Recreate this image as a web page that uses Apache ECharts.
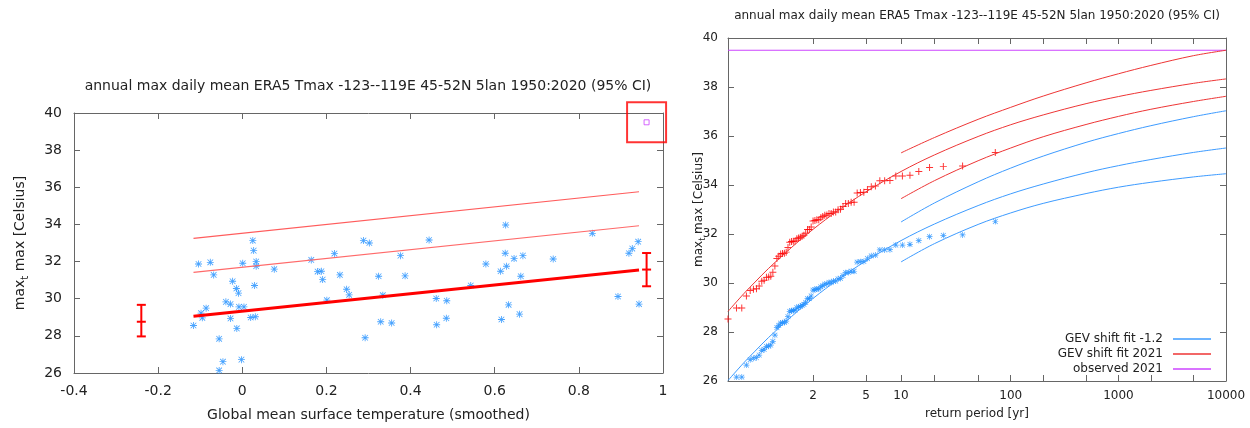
<!DOCTYPE html>
<html>
<head>
<meta charset="utf-8">
<script src="https://cdn.jsdelivr.net/npm/echarts@6/dist/echarts.min.js"></script>
<style>
  html, body { margin: 0; padding: 0; background: #fff; }
  #chart { width: 1250px; height: 428px; }
</style>
</head>
<body>
<div id="chart"></div>
<script>
// left panel: annual max vs smoothed GMST
const gmst = [-0.116, -0.104, -0.098, -0.095, -0.086, -0.076, -0.068, -0.055, -0.055, -0.046,
  -0.039, -0.028, -0.028, -0.023, -0.014, -0.013, -0.009, -0.008, -0.002, 0.001,
  0.004, 0.020, 0.025, 0.027, 0.029, 0.031, 0.033, 0.033, 0.076, 0.164,
  0.179, 0.188, 0.191, 0.201, 0.219, 0.232, 0.248, 0.254, 0.288, 0.292,
  0.302, 0.324, 0.329, 0.334, 0.355, 0.376, 0.387, 0.444, 0.461, 0.462,
  0.485, 0.486, 0.543, 0.579, 0.614, 0.616, 0.625, 0.626, 0.628, 0.633,
  0.646, 0.659, 0.662, 0.667, 0.739, 0.832, 0.893, 0.919, 0.927, 0.941, 0.943]
const tmax = [28.56, 31.87, 29.22, 28.97, 29.49, 31.96, 31.28, 27.84, 26.14, 26.61,
  29.83, 29.71, 28.94, 30.94, 30.55, 28.40, 30.30, 29.56, 26.72, 31.91,
  29.56, 28.99, 33.13, 32.59, 30.71, 29.03, 32.00, 31.75, 31.59, 32.09,
  31.46, 31.48, 31.03, 29.92, 32.43, 31.28, 30.51, 30.21, 33.13, 27.90,
  33.00, 31.21, 28.76, 30.19, 28.69, 32.32, 31.23, 33.16, 30.01, 28.60,
  28.95, 29.89, 30.71, 31.87, 31.48, 28.88, 32.45, 33.97, 31.75, 29.67,
  32.16, 29.17, 31.21, 32.32, 32.14, 33.52, 30.12, 32.45, 32.70, 33.07, 29.71]

// fitted position parameter and two return levels (line end points)
const trendX = [-0.116, 0.943]
const trendMu = [29.06, 31.55]
const trendLow = [31.42, 33.93]
const trendHigh = [33.25, 35.76]

// 95% CI of mu at the two reference climates
const errX = [-0.24, 0.961]
const errLo = [27.97, 30.67]
const errMid = [28.76, 31.57]
const errHi = [29.67, 32.46]

const gmst2021 = 0.961
const observed2021 = 39.5

// right panel: return periods of the ranked values
const returnPeriod = [72, 36, 24, 18, 14.4, 12, 10.286, 9, 8, 7.2,
  6.545, 6, 5.538, 5.143, 4.8, 4.5, 4.235, 4, 3.789, 3.6,
  3.429, 3.273, 3.130, 3, 2.88, 2.769, 2.667, 2.571, 2.483, 2.4,
  2.323, 2.25, 2.182, 2.118, 2.057, 2, 1.946, 1.895, 1.846, 1.8,
  1.756, 1.714, 1.674, 1.636, 1.6, 1.565, 1.532, 1.5, 1.469, 1.44,
  1.412, 1.385, 1.358, 1.333, 1.309, 1.286, 1.263, 1.241, 1.220, 1.2,
  1.180, 1.161, 1.143, 1.125, 1.108, 1.091, 1.075, 1.059, 1.043, 1.029, 1.014]
const obs2021 = [35.33, 34.78, 34.76, 34.71, 34.55, 34.40, 34.37, 34.37, 34.18, 34.17,
  34.17, 33.96, 33.93, 33.82, 33.70, 33.69, 33.67, 33.30, 33.30, 33.25,
  33.24, 33.12, 33.01, 32.99, 32.90, 32.90, 32.84, 32.84, 32.78, 32.77,
  32.71, 32.66, 32.58, 32.58, 32.55, 32.53, 32.29, 32.18, 32.18, 32.03,
  31.95, 31.91, 31.87, 31.84, 31.81, 31.71, 31.70, 31.69, 31.66, 31.45,
  31.26, 31.21, 31.20, 31.18, 31.09, 31.00, 30.69, 30.44, 30.28, 30.24,
  30.23, 30.11, 30.07, 29.88, 29.77, 29.75, 29.69, 29.47, 28.98, 28.98, 28.53]
const obsPast = [32.51, 31.96, 31.94, 31.89, 31.73, 31.58, 31.55, 31.55, 31.36, 31.35,
  31.35, 31.14, 31.11, 31.00, 30.88, 30.87, 30.85, 30.48, 30.48, 30.43,
  30.42, 30.30, 30.19, 30.17, 30.08, 30.08, 30.02, 30.02, 29.96, 29.95,
  29.89, 29.84, 29.76, 29.76, 29.73, 29.71, 29.47, 29.36, 29.36, 29.21,
  29.13, 29.09, 29.05, 29.02, 28.99, 28.89, 28.88, 28.87, 28.84, 28.63,
  28.44, 28.39, 28.38, 28.36, 28.27, 28.18, 27.87, 27.62, 27.46, 27.42,
  27.41, 27.29, 27.25, 27.06, 26.95, 26.93, 26.87, 26.65, 26.16, 26.16, 25.71]

// GEV return level curves
const fitT = [1.014, 1.05, 1.1, 1.2, 1.5, 2, 3, 5, 10, 20, 50, 100, 200, 500, 1000, 2000, 5000, 10000]
const fit2021 = [28.84, 29.57, 30.04, 30.60, 31.45, 32.19, 32.96, 33.72, 34.55, 35.23, 35.98, 36.46, 36.86, 37.32, 37.61, 37.86, 38.15, 38.33]
const fitPast = [26.02, 26.75, 27.22, 27.78, 28.63, 29.37, 30.14, 30.90, 31.73, 32.41, 33.16, 33.64, 34.04, 34.50, 34.79, 35.04, 35.33, 35.51]
const ciT = [10, 20, 50, 100, 200, 500, 1000, 2000, 5000, 10000]
const fit2021Hi = [35.31, 35.94, 36.68, 37.17, 37.63, 38.17, 38.54, 38.88, 39.28, 39.50]
const fit2021Lo = [33.44, 34.18, 34.99, 35.51, 35.97, 36.47, 36.80, 37.09, 37.41, 37.62]
const fitPastHi = [32.49, 33.27, 34.13, 34.69, 35.18, 35.74, 36.10, 36.42, 36.79, 37.03]
const fitPastLo = [30.86, 31.61, 32.39, 32.86, 33.25, 33.65, 33.91, 34.11, 34.33, 34.46]

const tickT = [2, 5, 10, 20, 50, 100, 200, 500, 1000, 2000, 5000, 10000]
const labelT = [2, 5, 10, 100, 1000, 10000]

const FONT = 'DejaVu Sans'
const BLUE = '#1a8cff'
const BLUE_LINE = '#3d9bff'
const RED = '#ff0000'
const RED_LINE = '#ee3535'
const PURPLE = '#cc44ff'
const FRAME = '#666'

// gumbel reduced variate, x axis of the return period plot
const gumbel = T => -Math.log(-Math.log(1 - 1 / T))
const uMin = gumbel(returnPeriod[returnPeriod.length - 1])
const uMax = gumbel(10000)

const ASTER = 'path://M0,4.4H10V5.6H0Z M4.4,0H5.6V10H4.4Z M1.4,0.6L9.4,8.6L8.6,9.4L0.6,1.4Z M8.6,0.6L9.4,1.4L1.4,9.4L0.6,8.6Z'
const PLUS = 'path://M4.3,0H5.7V4.3H10V5.7H5.7V10H4.3V5.7H0V4.3H4.3Z'

const chart = echarts.init(document.getElementById('chart'))

const frameAxis = (grid, extra) => Object.assign({
  gridIndex: grid,
  type: 'value',
  axisLine: { show: true, onZero: false, lineStyle: { color: FRAME, width: 1 } },
  axisTick: { show: true, inside: true, length: 6, lineStyle: { color: FRAME } },
  splitLine: { show: false },
  axisLabel: { show: false }
}, extra)

const yName = (size) => ({
  fontFamily: FONT, fontSize: size, color: '#222',
  rich: {
    a: { fontFamily: FONT, fontSize: size, color: '#222' },
    s: { fontFamily: FONT, fontSize: size - 4, color: '#222', padding: [9, 0, 0, 0] }
  }
})

const uLabel = v => {
  const t = labelT.find(t => Math.abs(gumbel(t) - v) < 1e-6)
  return t === undefined ? '' : String(t)
}

// thin fitted curve on the return period panel
const curve = (ts, ys, color, name) => ({
  name,
  type: 'line', xAxisIndex: 2, yAxisIndex: 2,
  data: ts.map((t, i) => [gumbel(t), ys[i]]),
  symbol: 'none', smooth: 0.35,
  lineStyle: { color, width: 1 }, itemStyle: { color }
})

const option = {
  animation: false,
  backgroundColor: '#fff',
  textStyle: { fontFamily: FONT },
  title: [
    {
      text: 'annual max daily mean ERA5 Tmax -123--119E 45-52N 5lan 1950:2020 (95% CI)',
      left: 368, top: 79, textAlign: 'center', padding: 0,
      textStyle: { fontFamily: FONT, fontSize: 14, fontWeight: 'normal', color: '#222' }
    },
    {
      text: 'annual max daily mean ERA5 Tmax -123--119E 45-52N 5lan 1950:2020 (95% CI)',
      left: 977, top: 10, textAlign: 'center', padding: 0,
      textStyle: { fontFamily: FONT, fontSize: 12, fontWeight: 'normal', color: '#222' }
    }
  ],
  legend: {
    orient: 'vertical',
    right: 39, top: 332,
    align: 'right',
    itemWidth: 38, itemHeight: 1.5,
    itemGap: 1,
    icon: 'rect',
    padding: 0,
    data: ['GEV shift fit -1.2', 'GEV shift fit 2021', 'observed 2021'],
    textStyle: { fontFamily: FONT, fontSize: 12, color: '#222', lineHeight: 14, padding: [0, 5, 0, 0] }
  },
  grid: [
    { left: 74, top: 113, width: 589, height: 260 },
    { left: 728, top: 38, width: 498, height: 343 }
  ],
  xAxis: [
    frameAxis(0, {
      min: -0.4, max: 1, interval: 0.2, position: 'bottom',
      axisLabel: { show: true, fontFamily: FONT, fontSize: 14, color: '#222', margin: 11 },
      name: 'Global mean surface temperature (smoothed)',
      nameLocation: 'middle', nameGap: 35,
      nameTextStyle: { fontFamily: FONT, fontSize: 14, color: '#222' }
    }),
    frameAxis(0, { min: -0.4, max: 1, interval: 0.2, position: 'top' }),
    frameAxis(1, {
      min: uMin, max: uMax, position: 'bottom',
      axisTick: { show: true, inside: true, length: 6, lineStyle: { color: FRAME }, customValues: tickT.map(gumbel) },
      axisLabel: {
        show: true, fontFamily: FONT, fontSize: 12, color: '#222', margin: 9,
        customValues: labelT.map(gumbel), formatter: uLabel
      },
      name: 'return period [yr]',
      nameLocation: 'middle', nameGap: 27,
      nameTextStyle: { fontFamily: FONT, fontSize: 12, color: '#222' }
    }),
    frameAxis(1, {
      min: uMin, max: uMax, position: 'top',
      axisTick: { show: true, inside: true, length: 6, lineStyle: { color: FRAME }, customValues: tickT.map(gumbel) }
    })
  ],
  yAxis: [
    frameAxis(0, {
      min: 26, max: 40, interval: 2, position: 'left',
      axisLabel: { show: true, fontFamily: FONT, fontSize: 14, color: '#222', margin: 12 },
      name: '{a|max}{s|t}{a| max [Celsius]}',
      nameLocation: 'middle', nameGap: 44, nameMoveOverlap: false,
      nameTextStyle: yName(14)
    }),
    frameAxis(0, { min: 26, max: 40, interval: 2, position: 'right' }),
    frameAxis(1, {
      min: 26, max: 40, interval: 2, position: 'left',
      axisLabel: { show: true, fontFamily: FONT, fontSize: 12, color: '#222', margin: 10 },
      name: '{a|max}{s|t}{a| max [Celsius]}',
      nameLocation: 'middle', nameGap: 21, nameMoveOverlap: false,
      nameTextStyle: yName(12)
    }),
    frameAxis(1, { min: 26, max: 40, interval: 2, position: 'right' })
  ],
  series: [
    // left panel
    {
      type: 'scatter', xAxisIndex: 0, yAxisIndex: 0,
      data: gmst.map((x, i) => [x, tmax[i]]),
      symbol: ASTER, symbolSize: 7,
      itemStyle: { color: BLUE }
    },
    {
      type: 'line', xAxisIndex: 0, yAxisIndex: 0,
      data: trendX.map((x, i) => [x, trendHigh[i]]),
      symbol: 'none', lineStyle: { color: '#ff5c5c', width: 1.2 }
    },
    {
      type: 'line', xAxisIndex: 0, yAxisIndex: 0,
      data: trendX.map((x, i) => [x, trendLow[i]]),
      symbol: 'none', lineStyle: { color: '#ff6a6a', width: 1.2 }
    },
    {
      type: 'line', xAxisIndex: 0, yAxisIndex: 0,
      data: trendX.map((x, i) => [x, trendMu[i]]),
      symbol: 'none', lineStyle: { color: RED, width: 3 }
    },
    {
      type: 'custom', xAxisIndex: 0, yAxisIndex: 0,
      data: errX.map((x, i) => [x, errLo[i], errMid[i], errHi[i]]),
      encode: { x: 0, y: [1, 2, 3] },
      renderItem: (params, api) => {
        const x = api.value(0)
        const lo = api.coord([x, api.value(1)])
        const mid = api.coord([x, api.value(2)])
        const hi = api.coord([x, api.value(3)])
        const w = 4.5
        const style = { stroke: RED, lineWidth: 2 }
        const h = p => ({ type: 'line', shape: { x1: p[0] - w, y1: p[1], x2: p[0] + w, y2: p[1] }, style })
        return {
          type: 'group',
          children: [
            { type: 'line', shape: { x1: lo[0], y1: lo[1], x2: hi[0], y2: hi[1] }, style },
            h(lo), h(mid), h(hi)
          ]
        }
      }
    },
    {
      type: 'scatter', xAxisIndex: 0, yAxisIndex: 0,
      data: [[gmst2021, observed2021]],
      symbol: 'rect', symbolSize: 5,
      itemStyle: { color: '#fff', borderColor: PURPLE, borderWidth: 1 }
    },
    {
      // highlight box round the 2021 value
      type: 'scatter', xAxisIndex: 0, yAxisIndex: 0, clip: false, silent: true,
      data: [[gmst2021, observed2021]],
      symbol: 'rect', symbolSize: [39, 40],
      itemStyle: { color: 'rgba(0,0,0,0)', borderColor: RED, borderWidth: 2 },
      z: 5
    },
    // right panel
    {
      name: 'observed 2021',
      type: 'line', xAxisIndex: 2, yAxisIndex: 2,
      data: [[uMin, observed2021], [uMax, observed2021]],
      symbol: 'none',
      lineStyle: { color: PURPLE, width: 1.2 }, itemStyle: { color: PURPLE }
    },
    curve(fitT, fit2021, RED_LINE, 'GEV shift fit 2021'),
    curve(ciT, fit2021Hi, RED_LINE),
    curve(ciT, fit2021Lo, RED_LINE),
    curve(fitT, fitPast, BLUE_LINE, 'GEV shift fit -1.2'),
    curve(ciT, fitPastHi, BLUE_LINE),
    curve(ciT, fitPastLo, BLUE_LINE),
    {
      type: 'scatter', xAxisIndex: 2, yAxisIndex: 2,
      data: returnPeriod.map((t, i) => [gumbel(t), obs2021[i]]),
      symbol: PLUS, symbolSize: 7,
      itemStyle: { color: RED }
    },
    {
      type: 'scatter', xAxisIndex: 2, yAxisIndex: 2,
      data: returnPeriod.map((t, i) => [gumbel(t), obsPast[i]]),
      symbol: ASTER, symbolSize: 6,
      itemStyle: { color: BLUE }
    }
  ]
}

chart.setOption(option)
</script>
</body>
</html>
